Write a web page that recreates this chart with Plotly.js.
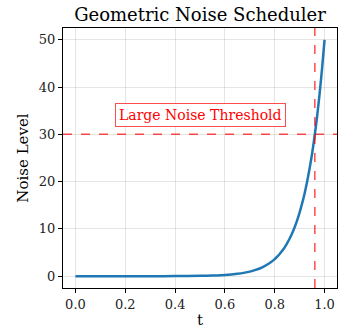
<!DOCTYPE html>
<html><head><meta charset="utf-8">
<script src="https://cdn.plot.ly/plotly-3.0.1.min.js"></script>
<style>html,body{margin:0;padding:0;background:#fff}</style>
</head><body>
<div id="chart" style="width:338px;height:329px"></div>
<script>
const tValues = [0.0, 0.1, 0.2, 0.3, 0.4, 0.5, 0.55, 0.6, 0.65, 0.68, 0.7, 0.72, 0.75, 0.78, 0.8, 0.81, 0.82, 0.83, 0.84, 0.85, 0.86, 0.87, 0.88, 0.89, 0.9, 0.91, 0.92, 0.93, 0.94, 0.95, 0.96, 0.97, 0.98, 0.99, 1.0];
const noiseValues = [0.0, 0.0, 0.0, 0.005, 0.02, 0.07, 0.14, 0.26, 0.51, 0.75, 0.97, 1.27, 1.88, 2.79, 3.62, 4.13, 4.7, 5.37, 6.1, 6.99, 7.96, 9.08, 10.36, 11.8, 13.5, 15.4, 17.5, 20.0, 22.8, 25.9, 29.6, 33.7, 38.5, 43.9, 50.0];
const thresholdValue = 30;
const thresholdT = 0.961;
const annotationText = "Large Noise Threshold";
const xTicks = [0.0, 0.2, 0.4, 0.6, 0.8, 1.0];
const yTicks = [0, 10, 20, 30, 40, 50];

const serif = "DejaVu Serif, serif";
const red = "rgba(255,0,0,0.7)";

const data = [{
  x: tValues, y: noiseValues, type: "scatter", mode: "lines",
  line: {color: "#1f77b4", width: 2.5, shape: "spline", smoothing: 0.5}, hoverinfo: "skip"
}];

const axisCommon = {
  showline: true, linecolor: "#000", linewidth: 1, mirror: true,
  ticks: "outside", ticklen: 4, tickcolor: "#000",
  showgrid: true, gridcolor: "rgba(0,0,0,0.1)", gridwidth: 1,
  zeroline: false, tickfont: {family: serif, size: 13, color: "#222"}
};

const layout = {
  width: 338, height: 329,
  margin: {l: 63, r: 1, t: 28, b: 41},
  paper_bgcolor: "#fff", plot_bgcolor: "#fff",
  showlegend: false,
  title: {text: "Geometric Noise Scheduler", font: {family: serif, size: 18, color: "#000"},
          x: 0.5, xanchor: "center", xref: "paper", y: 0.955, yanchor: "middle"},
  xaxis: Object.assign({}, axisCommon, {
    range: [-0.05, 1.05], tickvals: xTicks, ticktext: xTicks.map(v => v.toFixed(1)),
    title: {text: "t", font: {family: serif, size: 15, color: "#000"}, standoff: 4}
  }),
  yaxis: Object.assign({}, axisCommon, {
    range: [-2.5, 52.5], tickvals: yTicks, ticktext: yTicks.map(String),
    title: {text: "Noise Level", font: {family: serif, size: 15, color: "#000"}, standoff: 6}
  }),
  shapes: [
    {type: "line", xref: "paper", x0: 0, x1: 1, yref: "y", y0: thresholdValue, y1: thresholdValue,
     line: {color: red, width: 1.5, dash: "dash"}},
    {type: "line", xref: "x", x0: thresholdT, x1: thresholdT, yref: "paper", y0: 0, y1: 1,
     line: {color: red, width: 1.5, dash: "dash"}}
  ],
  annotations: [{
    x: 0.5, y: 34, xref: "x", yref: "y", text: annotationText, showarrow: false,
    font: {family: serif, size: 14, color: "red"},
    bgcolor: "#fff", bordercolor: red, borderwidth: 1, borderpad: 3
  }]
};

Plotly.newPlot("chart", data, layout, {staticPlot: true, displayModeBar: false});
</script>
</body></html>
